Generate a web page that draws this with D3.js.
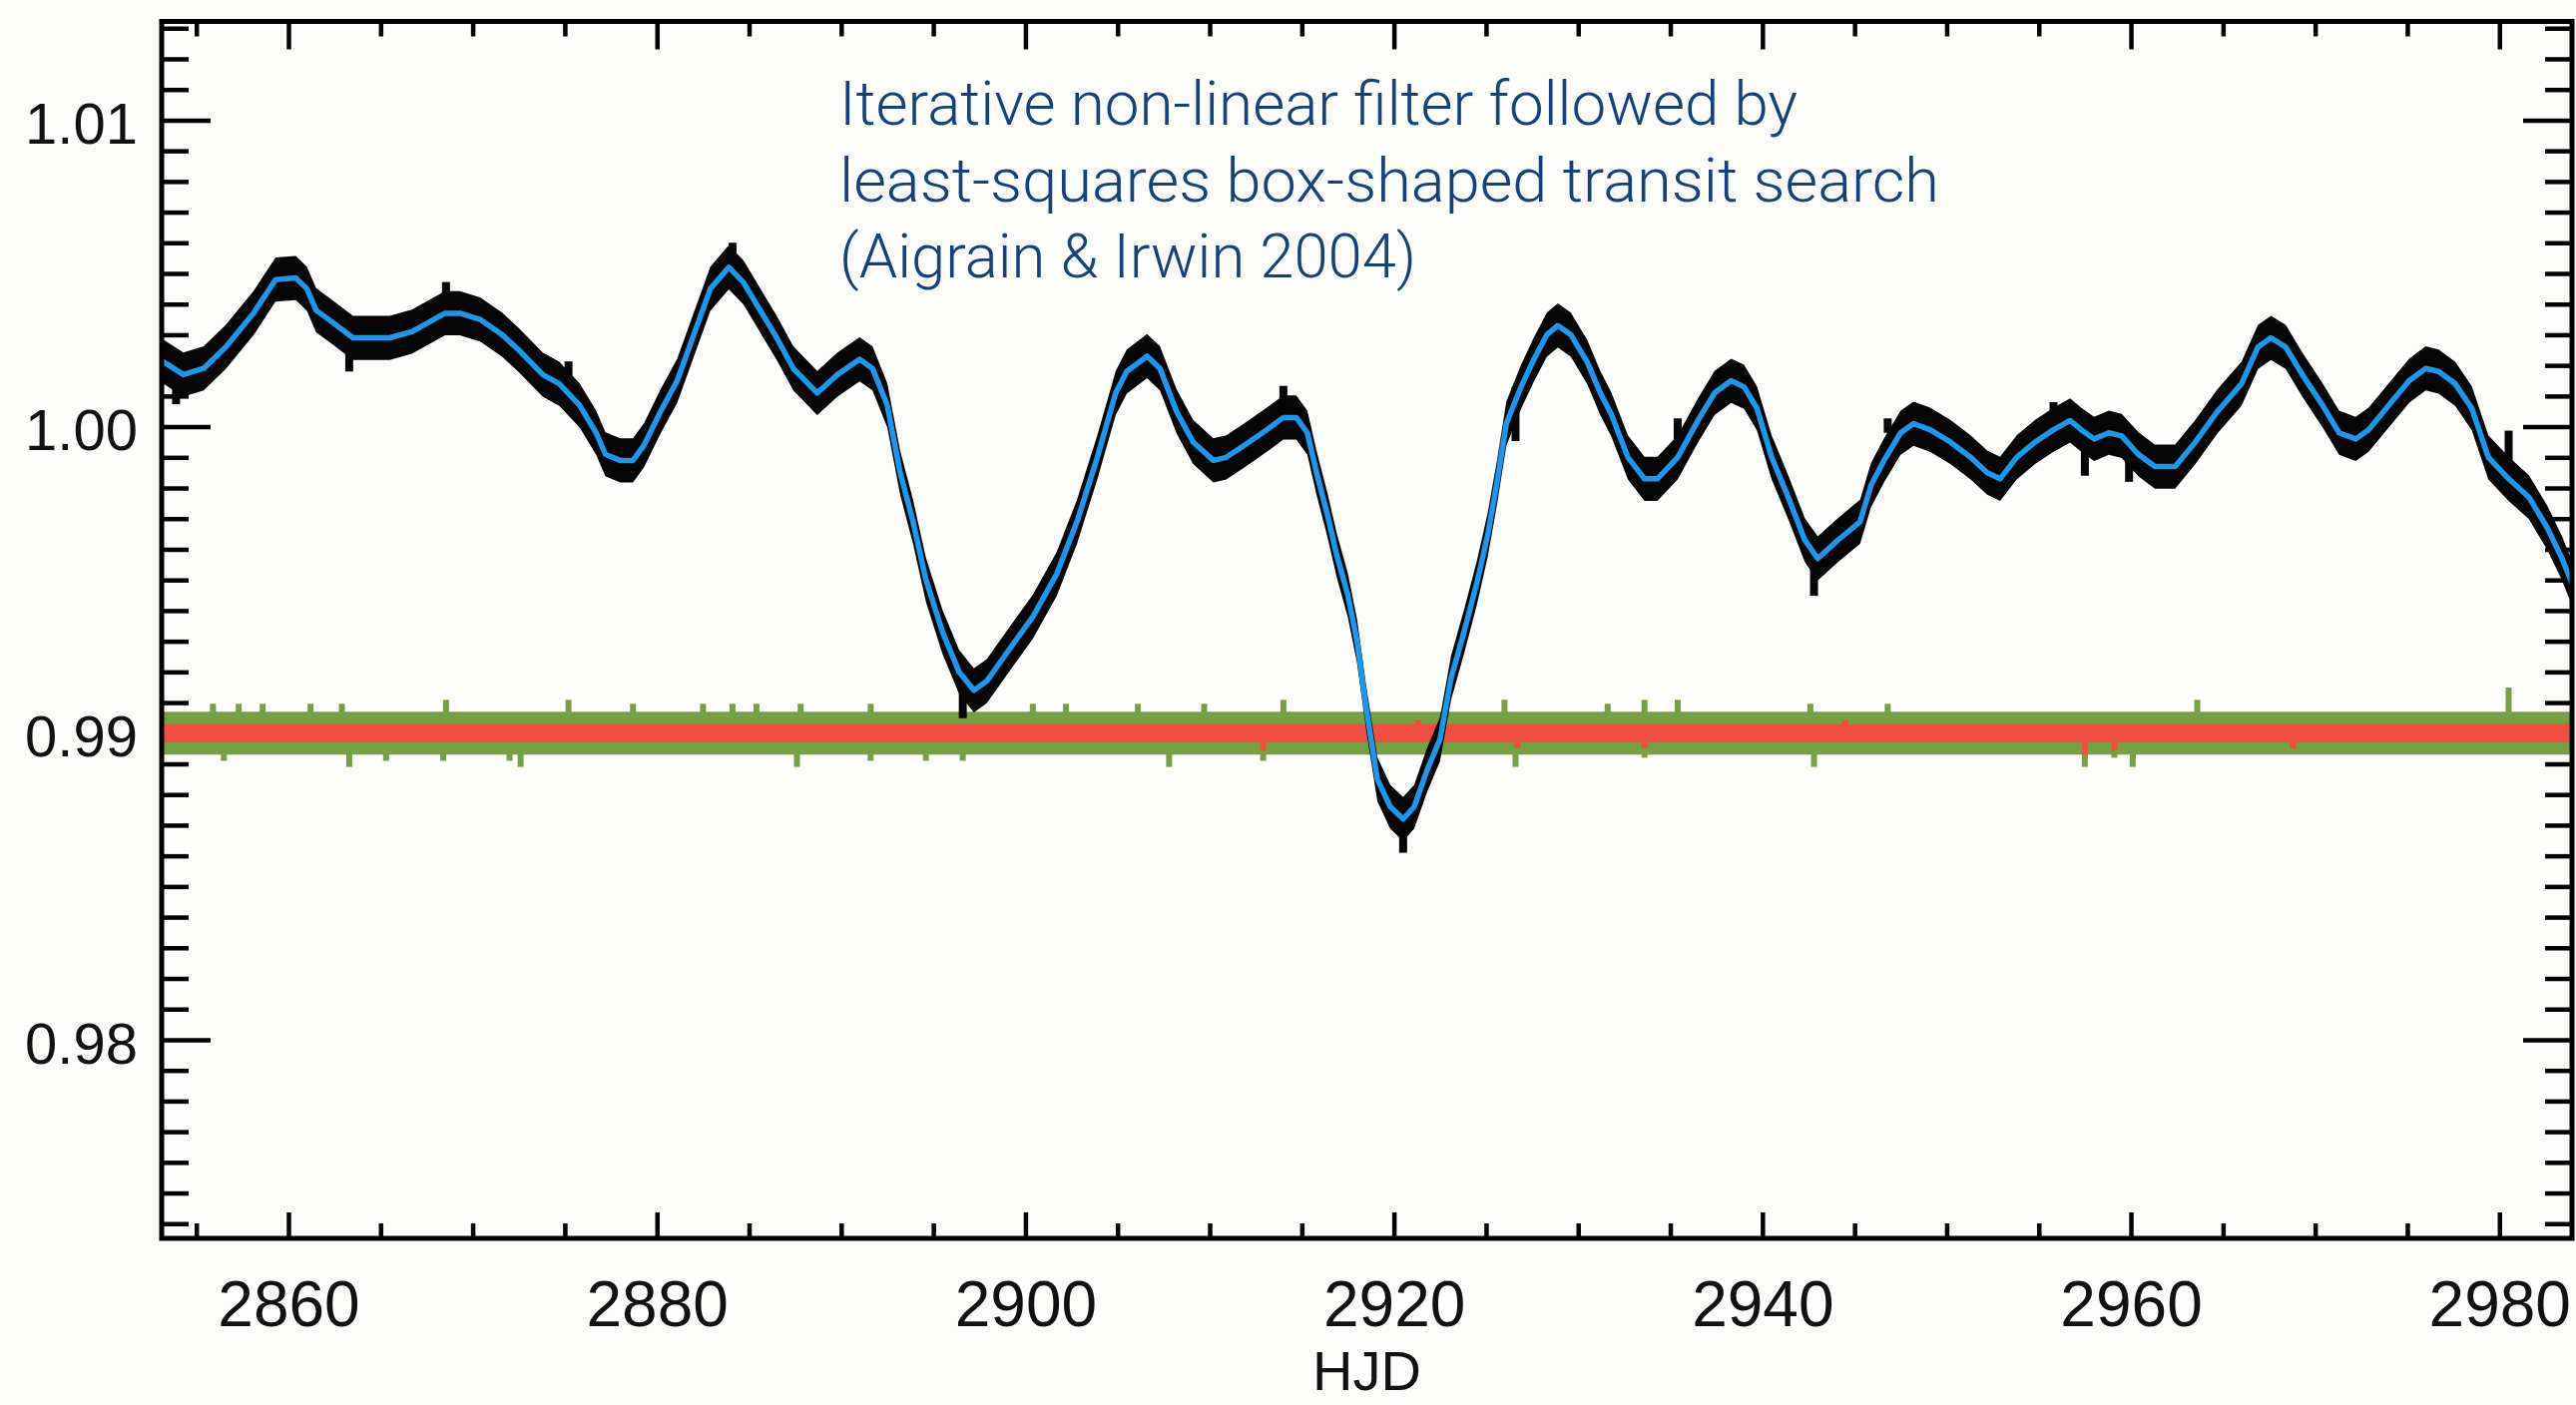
<html>
<head>
<title>Iterative non-linear filter - light curve</title>
<script src="https://d3js.org/d3.v7.min.js"></script>
<style>
body { margin: 0; background: #fdfdfb; }
svg { display: block; background: #fdfdfb; }
.axis text { font-family: 'Liberation Sans', Arial, sans-serif; fill: #111; }
.axis line { stroke: #000; stroke-width: 4.5; }
text.note {
  font-family: Roboto, 'Liberation Sans', sans-serif;
  font-weight: 300;
  font-size: 62px;
  fill: #15427d;
}
</style>
</head>
<body>
<div id="plot"></div>

<script>

// ---- data ----
// filtered light curve (blue), HJD vs relative flux
var hjd = [2853.0, 2854.3, 2855.4, 2856.6, 2858.1, 2859.3, 2860.4, 2861.0, 2861.5, 2862.4,
  2863.5, 2865.5, 2866.7, 2868.5, 2869.3, 2870.4, 2871.6, 2872.5, 2873.8, 2874.7,
  2875.8, 2876.7, 2877.2, 2878.0, 2878.7, 2879.3, 2880.2, 2881.1, 2882.0, 2882.9,
  2883.9, 2884.7, 2885.6, 2886.5, 2887.4, 2888.7, 2889.8, 2891.0, 2891.7, 2892.5,
  2893.2, 2893.9, 2894.6, 2895.5, 2896.4, 2897.2, 2897.9, 2899.2, 2900.4, 2901.7,
  2902.8, 2903.9, 2904.9, 2905.5, 2906.6, 2907.3, 2908.2, 2909.1, 2910.2, 2910.9,
  2911.9, 2913.1, 2914.0, 2914.7, 2915.3, 2915.8, 2916.4, 2916.9, 2917.5, 2918.0,
  2918.5, 2919.1, 2919.8, 2920.5, 2921.1, 2921.8, 2922.5, 2923.1, 2923.8, 2924.5,
  2925.1, 2925.6, 2926.1, 2926.9, 2927.6, 2928.3, 2928.9, 2929.6, 2930.5, 2931.2,
  2931.8, 2932.7, 2933.6, 2934.3, 2935.4, 2936.5, 2937.4, 2938.3, 2939.0, 2939.7,
  2940.5, 2941.4, 2942.3, 2943.0, 2944.1, 2945.3, 2945.9, 2946.6, 2947.5, 2948.2,
  2949.1, 2950.2, 2951.3, 2952.2, 2952.9, 2953.8, 2954.8, 2955.8, 2956.7, 2957.3,
  2958.0, 2958.8, 2959.5, 2960.4, 2961.3, 2962.4, 2963.5, 2964.7, 2966.0, 2966.9,
  2967.6, 2968.4, 2969.3, 2970.4, 2971.3, 2972.2, 2972.9, 2974.0, 2975.1, 2976.0,
  2976.7, 2977.6, 2978.5, 2979.4, 2980.5, 2981.6, 2982.6, 2983.4, 2984.0];

var flux = [1.0022, 1.0017, 1.0019, 1.0026, 1.0037, 1.0048, 1.00485, 1.0045, 1.0038, 1.0034,
  1.0029, 1.0029, 1.0031, 1.0037, 1.0037, 1.0035, 1.0030, 1.0025, 1.0017, 1.0014,
  1.0007, 0.9998, 0.9991, 0.9989, 0.9989, 0.9994, 1.0005, 1.0015, 1.0030, 1.0045,
  1.0052, 1.0047, 1.0038, 1.0029, 1.0019, 1.0011, 1.0017, 1.0022, 1.0019, 1.0007,
  0.9985, 0.9969, 0.9950, 0.9933, 0.9920, 0.9914, 0.9917, 0.9928, 0.9938, 0.9952,
  0.9969, 0.9990, 1.0011, 1.0018, 1.0023, 1.0019, 1.0005, 0.9995, 0.9989, 0.9990,
  0.9994, 0.9999, 1.0003, 1.0003, 0.9998, 0.9985, 0.9971, 0.9958, 0.9945, 0.9930,
  0.9908, 0.9885, 0.9876, 0.9872, 0.9876, 0.9888, 0.9898, 0.9918, 0.9933, 0.9949,
  0.9965, 0.9982, 1.0001, 1.0013, 1.0022, 1.0030, 1.0033, 1.0030, 1.0021, 1.0011,
  1.0004, 0.9990, 0.9983, 0.9983, 0.9990, 1.0002, 1.0011, 1.0015, 1.0013, 1.0006,
  0.9990, 0.9977, 0.9963, 0.9957, 0.9963, 0.9969, 0.9981, 0.9989, 0.9998, 1.0001,
  0.9999, 0.9995, 0.9990, 0.9985, 0.9983, 0.9990, 0.9995, 0.9999, 1.0002, 0.9999,
  0.9996, 0.9998, 0.9997, 0.9991, 0.9987, 0.9987, 0.9995, 1.0005, 1.0014, 1.0026,
  1.0029, 1.0026, 1.0017, 1.0007, 0.9998, 0.9996, 0.9999, 1.0007, 1.0015, 1.0019,
  1.0018, 1.0014, 1.0006, 0.9990, 0.9983, 0.9977, 0.9967, 0.9957, 0.9948];

// half-width of the scatter of the raw points (black) around the filter
var rawScatter = 0.00072;

// outlying raw points (black)
var rawSpikeT = [2853.9, 2863.3, 2868.55, 2875.2, 2884.1, 2896.6, 2914.0, 2920.5, 2926.6,
  2935.4, 2942.8, 2946.8, 2955.8, 2957.5, 2959.9, 2980.5];
var rawSpikeF = [1.00073, 1.0018, 1.00472, 1.00213, 1.0060, 0.99049, 1.00133, 0.9861, 0.99953,
  1.00027, 0.99448, 1.00027, 1.0008, 0.9984, 0.9982, 0.99987];

// residuals, offset to 0.99: green = raw - filter, red = smoothed residuals
var residLevel = 0.99;
var residHalf = 0.0007;
var smoothHalf = 0.0003;

var greenSpikeT = [2855.9, 2857.3, 2858.6, 2861.2, 2862.9, 2868.55, 2875.2, 2878.7,
  2882.5, 2884.1, 2885.4, 2887.8, 2891.6, 2900.4, 2902.2, 2906.1, 2909.7, 2914.0,
  2926.0, 2931.6, 2933.6, 2935.4, 2942.6, 2946.8, 2963.6, 2980.5,
  2856.5, 2863.3, 2865.3, 2868.4, 2872.0, 2872.6, 2887.6, 2891.6, 2894.6, 2896.6,
  2907.8, 2912.9, 2926.6, 2933.6, 2942.8, 2957.5, 2959.1, 2960.1];
var greenSpikeF = [0.99096, 0.99096, 0.99096, 0.99096, 0.99096, 0.99109, 0.99109, 0.99096,
  0.99096, 0.99096, 0.99096, 0.99096, 0.99096, 0.99096, 0.99096, 0.99096, 0.99096, 0.99109,
  0.99109, 0.99096, 0.99109, 0.99109, 0.99096, 0.99096, 0.99109, 0.99149,
  0.98910, 0.98890, 0.98910, 0.98910, 0.98910, 0.98890, 0.98890, 0.98910, 0.98910, 0.98910,
  0.98890, 0.98910, 0.98890, 0.98920, 0.98890, 0.98890, 0.98920, 0.98890];

var redSpikeT = [2912.9, 2921.3, 2926.7, 2933.6, 2957.5, 2959.1, 2944.5, 2968.8];
var redSpikeF = [0.98943, 0.99045, 0.98950, 0.98950, 0.98930, 0.98943, 0.99042, 0.98950];

// axes
var xMajor = [2860, 2880, 2900, 2920, 2940, 2960, 2980];
var xMinor = d3.range(2855, 2985, 5).filter(function (d) { return d % 20 != 0; });
var yMajor = [0.98, 0.99, 1.00, 1.01];
var yLabels = ["0.98", "0.99", "1.00", "1.01"];
var yMinor = d3.range(974, 1014).filter(function (d) { return d % 10 != 0; })
  .map(function (d) { return d / 1000; });
var xTitle = "HJD";
var noteLines = ["Iterative non-linear filter followed by",
  "least-squares box-shaped transit search",
  "(Aigrain & Irwin 2004)"];

// ---- layout ----
var width = 2581, height = 1408;
var plotLeft = 162, plotTop = 21.5, plotRight = 2577, plotBottom = 1241;

var svg = d3.select("#plot").append("svg")
  .attr("width", width).attr("height", height);

var xScale = d3.scaleLinear().domain([2853.12, 2983.94]).range([plotLeft, plotRight]);
var yScale = d3.scaleLinear().domain([0.97352, 1.01322]).range([plotBottom, plotTop]);

// ---- axes (drawn first so the data covers the ticks) ----
function drawAxis(axis, x, y, cls) {
  var g = svg.append("g").attr("class", "axis " + cls)
    .attr("transform", "translate(" + x + "," + y + ")")
    .call(axis);
  g.select(".domain").remove();
  return g;
}

var xBottom = drawAxis(d3.axisBottom(xScale).tickValues(xMajor)
  .tickSizeInner(-26).tickSizeOuter(0).tickPadding(43)
  .tickFormat(d3.format("d")), 0, plotBottom, "xb");
xBottom.selectAll("text").style("font-size", "64px");

drawAxis(d3.axisBottom(xScale).tickValues(xMinor)
  .tickSizeInner(-15).tickSizeOuter(0).tickFormat(""), 0, plotBottom, "xbm");
drawAxis(d3.axisTop(xScale).tickValues(xMajor)
  .tickSizeInner(-28).tickSizeOuter(0).tickFormat(""), 0, plotTop, "xt");
drawAxis(d3.axisTop(xScale).tickValues(xMinor)
  .tickSizeInner(-15).tickSizeOuter(0).tickFormat(""), 0, plotTop, "xtm");

var yLeft = drawAxis(d3.axisLeft(yScale).tickValues(yMajor)
  .tickSizeInner(-49).tickSizeOuter(0).tickPadding(24)
  .tickFormat(function (d, i) { return yLabels[i]; }), plotLeft, 0, "yl");
yLeft.selectAll("text").style("font-size", "58px").attr("dy", "0.40em");

drawAxis(d3.axisLeft(yScale).tickValues(yMinor)
  .tickSizeInner(-27).tickSizeOuter(0).tickFormat(""), plotLeft, 0, "ylm");
drawAxis(d3.axisRight(yScale).tickValues(yMajor)
  .tickSizeInner(-49).tickSizeOuter(0).tickFormat(""), plotRight, 0, "yr");
drawAxis(d3.axisRight(yScale).tickValues(yMinor)
  .tickSizeInner(-27).tickSizeOuter(0).tickFormat(""), plotRight, 0, "yrm");

// ---- data ----
svg.append("clipPath").attr("id", "clip")
  .append("rect")
  .attr("x", plotLeft).attr("y", plotTop)
  .attr("width", plotRight - plotLeft).attr("height", plotBottom - plotTop);

var plot = svg.append("g").attr("clip-path", "url(#clip)");

var points = hjd.map(function (t, i) { return { t: t, f: flux[i] }; });

// residual bands
var band = d3.area()
  .x(function (d) { return xScale(d); });

plot.append("path")
  .datum(xScale.domain())
  .attr("fill", "#76a043")
  .attr("d", band.y0(yScale(residLevel - residHalf)).y1(yScale(residLevel + residHalf)));

plot.selectAll("line.gspike").data(greenSpikeT).enter()
  .append("line")
  .attr("class", "gspike")
  .attr("x1", function (d) { return xScale(d); })
  .attr("x2", function (d) { return xScale(d); })
  .attr("y1", yScale(residLevel))
  .attr("y2", function (d, i) { return yScale(greenSpikeF[i]); })
  .style("stroke", "#76a043").style("stroke-width", 6);

plot.append("path")
  .datum(xScale.domain())
  .attr("fill", "#f04e40")
  .attr("d", band.y0(yScale(residLevel - smoothHalf)).y1(yScale(residLevel + smoothHalf)));

plot.selectAll("line.rspike").data(redSpikeT).enter()
  .append("line")
  .attr("class", "rspike")
  .attr("x1", function (d) { return xScale(d); })
  .attr("x2", function (d) { return xScale(d); })
  .attr("y1", yScale(residLevel))
  .attr("y2", function (d, i) { return yScale(redSpikeF[i]); })
  .style("stroke", "#f04e40").style("stroke-width", 6);

// raw light curve scatter (black)
var rawArea = d3.area()
  .x(function (d) { return xScale(d.t); })
  .y0(function (d) { return yScale(d.f - rawScatter); })
  .y1(function (d) { return yScale(d.f + rawScatter); });

plot.append("path")
  .datum(points)
  .attr("fill", "#050505")
  .attr("d", rawArea);

var bisect = d3.bisector(function (d) { return d.t; }).left;

plot.selectAll("line.kspike").data(rawSpikeT).enter()
  .append("line")
  .attr("class", "kspike")
  .attr("x1", function (d) { return xScale(d); })
  .attr("x2", function (d) { return xScale(d); })
  .attr("y1", function (d) {
    var i = Math.min(bisect(points, d), points.length - 1);
    return yScale(points[i].f);
  })
  .attr("y2", function (d, i) { return yScale(rawSpikeF[i]); })
  .style("stroke", "#050505").style("stroke-width", 8);

// filtered curve (blue)
var line = d3.line()
  .x(function (d) { return xScale(d.t); })
  .y(function (d) { return yScale(d.f); });

plot.append("path")
  .datum(points)
  .attr("fill", "none")
  .attr("stroke", "#1d97ea")
  .attr("stroke-width", 5.5)
  .attr("stroke-linejoin", "round")
  .attr("d", line);

// frame
svg.append("rect")
  .attr("x", plotLeft).attr("y", plotTop)
  .attr("width", plotRight - plotLeft).attr("height", plotBottom - plotTop)
  .style("fill", "none").style("stroke", "#000").style("stroke-width", 5);

svg.append("text")
  .attr("class", "axis")
  .attr("x", (plotLeft + plotRight) / 2).attr("y", 1393)
  .attr("text-anchor", "middle")
  .style("font-family", "'Liberation Sans', Arial, sans-serif")
  .style("font-size", "56px").style("fill", "#111")
  .text(xTitle);

// annotation
var noteWidths = [960, 1102, 578];
svg.selectAll("text.note").data(noteLines).enter()
  .append("text")
  .attr("class", "note")
  .attr("x", 841)
  .attr("y", function (d, i) { return 125 + i * 76.5; })
  .attr("textLength", function (d, i) { return noteWidths[i]; })
  .attr("lengthAdjust", "spacingAndGlyphs")
  .text(function (d) { return d; });

</script>
</body>
</html>
